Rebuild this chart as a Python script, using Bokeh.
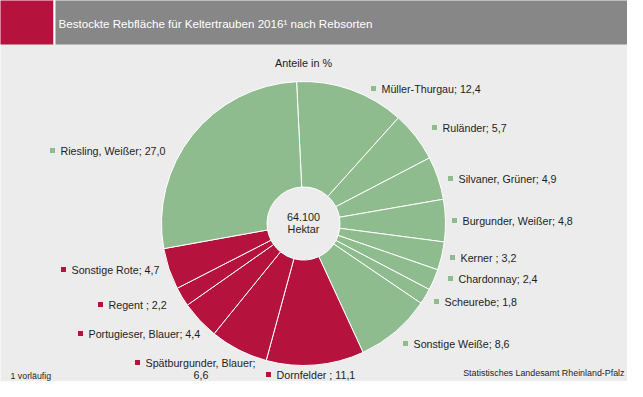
import numpy as np
from bokeh.plotting import figure
from bokeh.models import ColumnDataSource, Range1d
from bokeh.core.properties import value
from bokeh.embed import file_html
from bokeh.resources import INLINE

# ---------------- data ----------------
sorts = ["Müller-Thurgau", "Ruländer", "Silvaner, Grüner", "Burgunder, Weißer",
         "Kerner ", "Chardonnay", "Scheurebe", "Sonstige Weiße",
         "Dornfelder ", "Spätburgunder, Blauer", "Portugieser, Blauer",
         "Regent ", "Sonstige Rote", "Riesling, Weißer"]
shares = [12.4, 5.7, 4.9, 4.8, 3.2, 2.4, 1.8, 8.6, 11.1, 6.6, 4.4, 2.2, 4.7, 27.0]
kind = ["weiss", "weiss", "weiss", "weiss", "weiss", "weiss", "weiss", "weiss",
        "rot", "rot", "rot", "rot", "rot", "weiss"]
center_text = ["64.100", "Hektar"]
title = "Bestockte Rebfläche für Keltertrauben 2016\u00b9 nach Rebsorten"
subtitle = "Anteile in %"
footnote = "1 vorläufig"
source_note = "Statistisches Landesamt Rheinland-Pfalz"

# ---------------- layout / style ----------------
W, H = 627, 381
FONT = "Liberation Sans"
GREEN = "#8fbc8f"
RED = "#b5123e"
BG = "#ececec"
TXT = "#1e1e1e"
colors = {"weiss": GREEN, "rot": RED}


def X(x):
    return x


def Y(y):
    return H - y


cx, cy = 303, 223
R_OUT, R_IN = 142, 36.5
rot = np.deg2rad(2.8)

# label anchor positions (marker centres, pixels from top-left)
label_pos = [(373, 88), (434, 127), (450, 178), (454, 220), (452, 257), (450, 278),
             (436, 301), (405, 343), (268, 374), (137, 362), (80, 333), (100, 304),
             (63, 269), (52, 150)]

p = figure(width=W, height=H, output_backend="svg", toolbar_location=None,
           x_range=Range1d(0, W), y_range=Range1d(0, H), min_border=0)
p.axis.visible = False
p.grid.visible = False
p.outline_line_color = None
p.background_fill_color = BG
p.border_fill_color = BG

# header
p.quad(left=[X(-5)], right=[X(53)], bottom=[Y(44)], top=[Y(-5)], fill_color=RED, line_color=None)
p.quad(left=[X(53)], right=[X(55)], bottom=[Y(44)], top=[Y(-5)], fill_color="white", line_color=None)
p.quad(left=[X(55)], right=[X(650)], bottom=[Y(44)], top=[Y(-5)], fill_color="#878787", line_color=None)
p.text(x=[X(58)], y=[Y(23)], text=[title], text_color="white", text_font=value(FONT),
       text_font_size="11.6px", text_baseline="middle", text_align="left")

# donut
vals = np.array(shares)
frac = vals / vals.sum()
cum = np.concatenate([[0], np.cumsum(frac)])
theta = np.pi / 2 + rot - 2 * np.pi * cum
src = ColumnDataSource(dict(start=theta[1:], end=theta[:-1],
                            color=[colors[k] for k in kind]))
p.annular_wedge(x=X(cx), y=Y(cy), inner_radius=R_IN, outer_radius=R_OUT,
                start_angle="start", end_angle="end", fill_color="color",
                line_color="white", line_width=1, source=src)

# center text
p.text(x=[X(cx), X(cx)], y=[Y(216), Y(228)], text=center_text, text_color=TXT,
       text_font=value(FONT), text_font_size="10.8px", text_align="center", text_baseline="middle")
p.text(x=[X(cx)], y=[Y(62)], text=[subtitle], text_color=TXT,
       text_font=value(FONT), text_font_size="10.8px", text_align="center", text_baseline="middle")


def fmt(v):
    return f"{v:.1f}".replace(".", ",")


mx, my, mc, tx, ty, tt = [], [], [], [], [], []
for i, (name, v) in enumerate(zip(sorts, shares)):
    px, py = label_pos[i]
    mx.append(X(px)); my.append(Y(py)); mc.append(colors[kind[i]])
    if name.startswith("Spätburgunder"):
        tx.append(X(px + 8)); ty.append(Y(py)); tt.append(name + ";")
        tx.append(X(px + 56)); ty.append(Y(py + 12)); tt.append(fmt(v))
    else:
        tx.append(X(px + 8)); ty.append(Y(py)); tt.append(f"{name}; {fmt(v)}")

p.scatter(x=mx, y=my, marker="square", size=5, fill_color=mc, line_color=None)
p.text(x=tx, y=ty, text=tt, text_color=TXT, text_font=value(FONT), text_font_size="10.7px",
       text_align="left", text_baseline="middle")

# footer
p.text(x=[X(10)], y=[Y(375)], text=[footnote], text_color=TXT, text_font=value(FONT),
       text_font_size="8.8px", text_align="left", text_baseline="middle")
p.text(x=[X(624)], y=[Y(372)], text=[source_note], text_color=TXT, text_font=value(FONT),
       text_font_size="8.9px", text_align="right", text_baseline="middle")

open("out.html", "w").write(file_html(p, INLINE))
